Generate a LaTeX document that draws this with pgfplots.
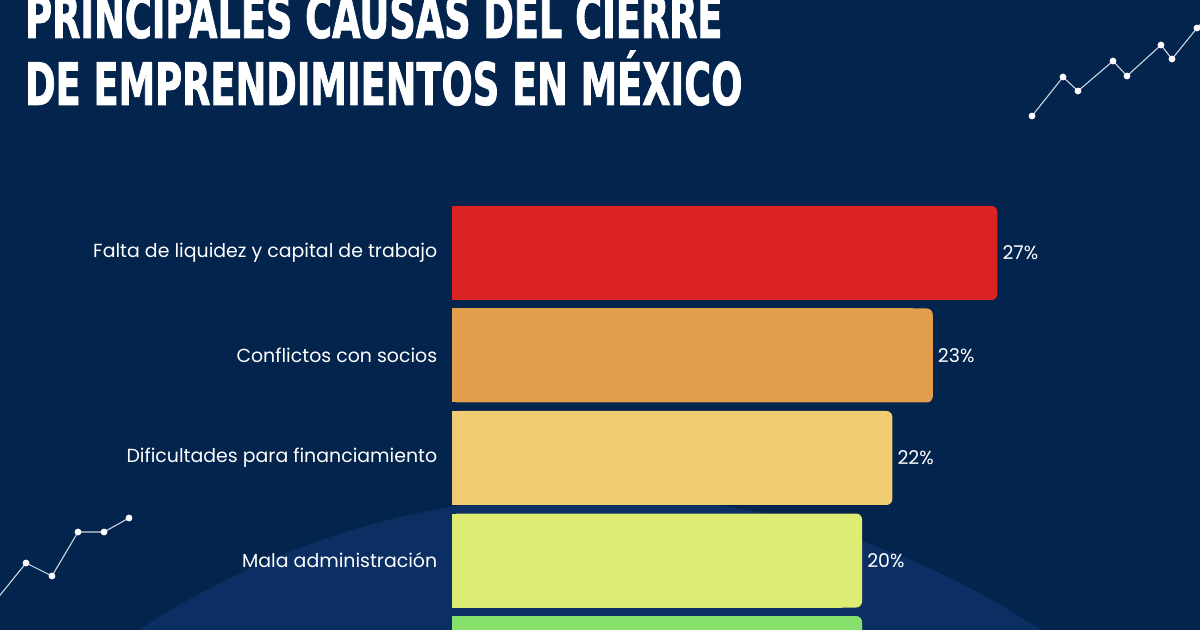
\documentclass[border=0pt]{standalone}
\usepackage{fontspec}
\setmainfont{Poppins}
\newfontfamily\titlefont{DejaVu Sans}[FakeStretch=0.625, FakeBold=1.2]
\usepackage{pgfplots}
\pgfplotsset{compat=1.18}
\definecolor{bg}{HTML}{03244C}
\definecolor{circ}{HTML}{0B2F63}
\definecolor{deco}{HTML}{D0D5DE}
\definecolor{c1}{HTML}{DC2323}
\definecolor{c2}{HTML}{E39E4C}
\definecolor{c3}{HTML}{EFCB72}
\definecolor{c4}{HTML}{DDEC72}
\definecolor{c5}{HTML}{86E06C}
\begin{document}
\begin{tikzpicture}[x=1bp,y=1bp]
\begin{scope}
\clip (0,0) rectangle (1200,630);
\fill[bg] (0,0) rectangle (1200,630);
\fill[circ] (590,-685) circle[radius=820];
\node[anchor=base west, inner sep=0, text=white, font=\titlefont\bfseries\fontsize{59}{59}\selectfont] at (25,592) {PRINCIPALES CAUSAS DEL CIERRE};
\node[anchor=base west, inner sep=0, text=white, font=\titlefont\bfseries\fontsize{59}{59}\selectfont] at (25,525) {DE EMPRENDIMIENTOS EN MÉXICO};
\begin{axis}[at={(0bp,0bp)}, anchor=south west, scale only axis, width=1200bp, height=630bp,
  xmin=0, xmax=1200, ymin=0, ymax=630, y dir=reverse, hide axis]
\addplot[color=deco, line width=1.1bp, mark=*, mark size=2.8bp, mark options={fill=white, draw=white}]
  coordinates {(1032,116) (1063,77) (1078,91) (1113,61) (1127,76) (1161,45) (1172,59) (1197,28) (1215,8)};
\addplot[color=deco, line width=1.1bp, mark=*, mark size=2.8bp, mark options={fill=white, draw=white}]
  coordinates {(-20,620) (26,563) (52,576) (78,532) (104,532) (129,518)};
\end{axis}
\begin{axis}[at={(452bp,0bp)}, anchor=south west, scale only axis, width=606bp, height=630bp,
  xmin=0, xmax=30, ymin=-1.468, ymax=4.678, y dir=reverse,
  xbar, bar width=94bp, bar shift=0pt, clip=false,
  hide x axis, axis line style={draw=none}, ytick style={draw=none},
  ytick={1,2,3,4},
  yticklabels={Falta de liquidez y capital de trabajo, Conflictos con socios, Dificultades para financiamiento, Mala administración},
  yticklabel style={text=white, font=\fontsize{19}{19}\selectfont, xshift=-7bp},
  every node near coord/.append style={text=white, font=\fontsize{19}{19}\selectfont, anchor=west, inner sep=5bp},
  point meta=explicit symbolic]
\addplot[fill=c1, draw=none, rounded corners=6bp, nodes near coords={\pgfplotspointmeta\%}] coordinates {(27,1)[27]};
\addplot[fill=c1, draw=none] coordinates {(26,1)[27]};
\addplot[fill=c2, draw=none, rounded corners=6bp, nodes near coords={\pgfplotspointmeta\%}] coordinates {(23.8,2)[23]};
\addplot[fill=c2, draw=none] coordinates {(22.8,2)[23]};
\addplot[fill=c3, draw=none, rounded corners=6bp, nodes near coords={\pgfplotspointmeta\%}] coordinates {(21.8,3)[22]};
\addplot[fill=c3, draw=none] coordinates {(20.8,3)[22]};
\addplot[fill=c4, draw=none, rounded corners=6bp, nodes near coords={\pgfplotspointmeta\%}] coordinates {(20.3,4)[20]};
\addplot[fill=c4, draw=none] coordinates {(19.3,4)[20]};
\addplot[fill=c5, draw=none, rounded corners=6bp] coordinates {(20.3,5)[20]};
\addplot[fill=c5, draw=none] coordinates {(19.3,5)[20]};
\end{axis}
\end{scope}
\pgfresetboundingbox
\useasboundingbox (0,0) rectangle (1200,630);
\end{tikzpicture}
\end{document}
